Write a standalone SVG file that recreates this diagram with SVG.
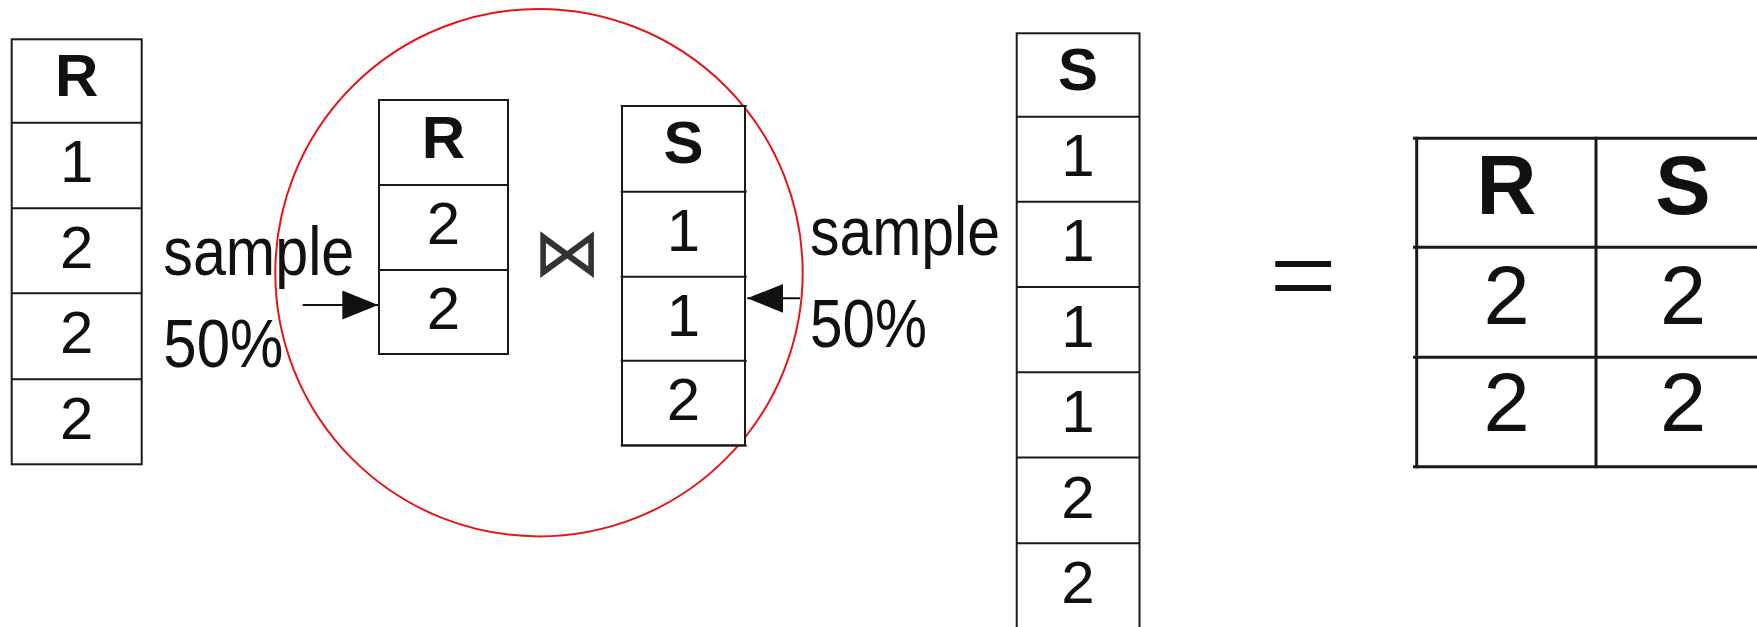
<svg xmlns="http://www.w3.org/2000/svg" width="1757" height="627" viewBox="0 0 1757 627">
<style>
.cell{fill:#fff;stroke:#1a1a1a;stroke-width:2}
.ln{stroke:#1a1a1a;stroke-width:2}
.ln3{stroke:#1a1a1a;stroke-width:3}
.t{font-family:"Liberation Sans",Arial,sans-serif;font-size:60px;fill:#111;text-anchor:middle}
.h{font-weight:bold}
.big{font-size:83px}
.lbl{font-family:"Liberation Sans",Arial,sans-serif;font-size:68px;fill:#111}
.conn{stroke:#111;stroke-width:2;fill:none}
</style>
<defs>
<marker id="ah" markerUnits="userSpaceOnUse" markerWidth="38" markerHeight="30" refX="36" refY="14.5" orient="auto">
<path d="M0,0 L36,14.5 L0,29 Z" fill="#111"/>
</marker>
</defs>
<rect width="1757" height="627" fill="#fff"/>

<circle id="highlight" cx="539" cy="272.7" r="263.7" fill="none" stroke="#e8141b" stroke-width="2"/>

<g id="tableR">
<rect class="cell" x="11.7" y="39.3" width="130" height="425"/>
<line class="ln" x1="11.7" y1="122.7" x2="141.7" y2="122.7"/>
<line class="ln" x1="11.7" y1="208.3" x2="141.7" y2="208.3"/>
<line class="ln" x1="11.7" y1="293.3" x2="141.7" y2="293.3"/>
<line class="ln" x1="11.7" y1="379.3" x2="141.7" y2="379.3"/>
<text class="t h" x="76.7" y="96">R</text>
<text class="t" x="76.7" y="182">1</text>
<text class="t" x="76.7" y="267.5">2</text>
<text class="t" x="76.7" y="352.5">2</text>
<text class="t" x="76.7" y="438.5">2</text>
</g>

<g id="sampleR">
<text class="lbl" x="163.3" y="275" textLength="191" lengthAdjust="spacingAndGlyphs">sample</text>
<text class="lbl" x="163.3" y="366.7" textLength="120" lengthAdjust="spacingAndGlyphs">50%</text>
</g>

<g id="sampledR">
<rect class="cell" x="379" y="100" width="129" height="254"/>
<line class="ln" x1="379" y1="185" x2="508" y2="185"/>
<line class="ln" x1="379" y1="270" x2="508" y2="270"/>
<text class="t h" x="443.5" y="157.5">R</text>
<text class="t" x="443.5" y="243.5">2</text>
<text class="t" x="443.5" y="328.5">2</text>
</g>

<g id="join">
<text x="567" y="276" font-family="DejaVu Sans, sans-serif" font-size="68" fill="#333" text-anchor="middle">⋈</text>
</g>

<g id="sampledS">
<rect class="cell" x="622" y="106" width="123" height="339.4"/>
<line class="ln" x1="620.7" y1="106" x2="746.7" y2="106"/>
<line class="ln" x1="620.7" y1="191.7" x2="746.7" y2="191.7"/>
<line class="ln" x1="620.7" y1="276.7" x2="746.7" y2="276.7"/>
<line class="ln" x1="620.7" y1="360.7" x2="746.7" y2="360.7"/>
<line class="ln" x1="620.7" y1="445.4" x2="746.7" y2="445.4"/>
<text class="t h" x="683.5" y="163.3">S</text>
<text class="t" x="683.5" y="250.5">1</text>
<text class="t" x="683.5" y="335.5">1</text>
<text class="t" x="683.5" y="419.5">2</text>
</g>

<g id="sampleS">
<text class="lbl" x="810" y="255" textLength="190" lengthAdjust="spacingAndGlyphs">sample</text>
<text class="lbl" x="810" y="346.7" textLength="117" lengthAdjust="spacingAndGlyphs">50%</text>
</g>

<g id="tableS">
<rect class="cell" x="1016.7" y="33.3" width="122.8" height="600"/>
<line class="ln" x1="1016.7" y1="116.7" x2="1139.5" y2="116.7"/>
<line class="ln" x1="1016.7" y1="201.7" x2="1139.5" y2="201.7"/>
<line class="ln" x1="1016.7" y1="287" x2="1139.5" y2="287"/>
<line class="ln" x1="1016.7" y1="372.3" x2="1139.5" y2="372.3"/>
<line class="ln" x1="1016.7" y1="457.5" x2="1139.5" y2="457.5"/>
<line class="ln" x1="1016.7" y1="543.3" x2="1139.5" y2="543.3"/>
<text class="t h" x="1078" y="90">S</text>
<text class="t" x="1078" y="176">1</text>
<text class="t" x="1078" y="261">1</text>
<text class="t" x="1078" y="346.5">1</text>
<text class="t" x="1078" y="431.5">1</text>
<text class="t" x="1078" y="518">2</text>
<text class="t" x="1078" y="603">2</text>
</g>

<g id="equals">
<text x="1303" y="316" font-family="Liberation Serif, serif" font-size="120" fill="#111" text-anchor="middle">=</text>
</g>

<g id="result">
<line class="ln3" x1="1413" y1="138.3" x2="1757" y2="138.3"/>
<line class="ln3" x1="1413" y1="247.3" x2="1757" y2="247.3"/>
<line class="ln3" x1="1413" y1="357.3" x2="1757" y2="357.3"/>
<line class="ln3" x1="1413" y1="466.7" x2="1757" y2="466.7"/>
<line class="ln3" x1="1416.7" y1="136.8" x2="1416.7" y2="468.2"/>
<line class="ln3" x1="1596" y1="136.8" x2="1596" y2="468.2"/>
<text class="t h big" x="1506.5" y="213.5">R</text>
<text class="t h big" x="1683" y="213.5">S</text>
<text class="t big" x="1506.5" y="323.5">2</text>
<text class="t big" x="1683" y="323.5">2</text>
<text class="t big" x="1506.5" y="430.5">2</text>
<text class="t big" x="1683" y="430.5">2</text>
</g>

<g id="connectors">
<line class="conn" x1="302.7" y1="305" x2="378.3" y2="305" marker-end="url(#ah)"/>
<line class="conn" x1="800" y1="298.3" x2="747.3" y2="298.3" marker-end="url(#ah)"/>
</g>
</svg>
